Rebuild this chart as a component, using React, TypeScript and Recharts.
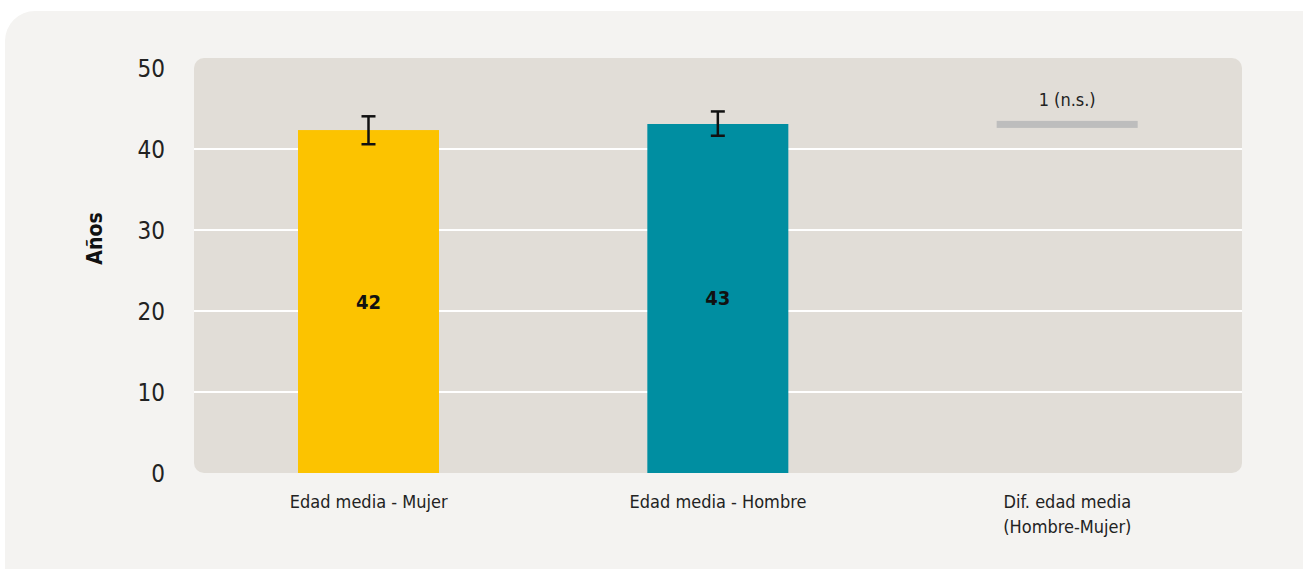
import React from "react";
import {
  BarChart,
  Bar,
  XAxis,
  YAxis,
  CartesianGrid,
  ErrorBar,
  LabelList,
  Label,
} from "recharts";

const categories = ["Edad media - Mujer", "Edad media - Hombre", "Dif. edad media\n(Hombre-Mujer)"];
const values = [42.35, 43.1, 43.05];
const errLow = [1.75, 1.45, null];
const errHigh = [1.7, 1.55, null];
const valueLabels = ["42", "43", "1 (n.s.)"];
const yTicks = [0, 10, 20, 30, 40, 50];
const gridValues = [10, 20, 30, 40];

const colors = ["#fcc300", "#008ea1", "#bdbdbd"];
const FONT = "'Liberation Sans Narrow', 'DejaVu Sans Condensed', Roboto, sans-serif";

const data = categories.map((c, i) => ({
  name: c,
  value: values[i],
  err: errLow[i] == null ? null : [errLow[i], errHigh[i]],
  label: valueLabels[i],
}));

const BarShape = (props: any) => {
  const { x, y, width, height, index } = props;
  if (index === 2) {
    // difference marker: a thin grey line at the level of the value
    return <rect x={x} y={y - 3.5} width={width} height={7} fill={colors[2]} />;
  }
  return <rect x={x} y={y} width={width} height={height} fill={colors[index]} />;
};

const CategoryTick = (props: any) => {
  const { x, y, payload } = props;
  const lines = String(payload.value).split("\n");
  return (
    <text x={x} y={y} textAnchor="middle" fill="#222" fontSize={18} fontFamily={FONT}>
      {lines.map((l, i) => (
        <tspan key={i} x={x} dy={i === 0 ? 27 : 25}>
          {l}
        </tspan>
      ))}
    </text>
  );
};

const ValueLabel = (props: any) => {
  const { x, y, width, height, index, value } = props;
  if (index === 2) {
    return (
      <text x={x + width / 2} y={y - 18} textAnchor="middle" fill="#222" fontSize={18} fontFamily={FONT}>
        {value}
      </text>
    );
  }
  return (
    <text
      x={x + width / 2}
      y={y + height / 2}
      dy={7}
      textAnchor="middle"
      fill="#111"
      fontSize={20}
      fontWeight="bold"
      fontFamily={FONT}
    >
      {value}
    </text>
  );
};

const AxisTitle = (props: any) => {
  const { viewBox } = props;
  const cx = 95;
  const cy = viewBox.y + viewBox.height / 2 - 27;
  return (
    <text
      x={cx}
      y={cy}
      transform={`rotate(-90 ${cx} ${cy})`}
      textAnchor="middle"
      dominantBaseline="central"
      fontSize={21}
      fontWeight="bold"
      fill="#111"
      fontFamily={FONT}
    >
      Años
    </text>
  );
};

export default function App() {
  return (
    <div style={{ position: "absolute", left: 0, top: 0, width: 1303, height: 569, background: "#fff", overflow: "hidden" }}>
      <div
        style={{
          position: "absolute",
          left: 5,
          top: 11,
          width: 1340,
          height: 600,
          borderRadius: 30,
          background: "#f4f3f1",
        }}
      />
      {/* rounded plot panel behind the svg */}
      <div
        style={{
          position: "absolute",
          left: 194,
          top: 58,
          width: 1048,
          height: 415,
          borderRadius: 10,
          background: "#e1ddd7",
        }}
      />
      <div style={{ position: "absolute", left: 0, top: 0 }}>
        <BarChart
          width={1303}
          height={569}
          data={data}
          margin={{ top: 58, right: 61, bottom: 0, left: 0 }}
          barSize={141}
        >
          <CartesianGrid
            vertical={false}
            stroke="#ffffff"
            strokeWidth={2}
            horizontalValues={gridValues}
          />
          <XAxis
            dataKey="name"
            axisLine={false}
            tickLine={false}
            interval={0}
            height={96}
            tick={<CategoryTick />}
          />
          <YAxis
            width={194}
            domain={[0, 51.25]}
            ticks={yTicks}
            axisLine={false}
            tickLine={false}
            tickSize={0}
            tickMargin={29}
            tick={{ fontSize: 24, fill: "#222", fontFamily: FONT }}
          >
            <Label content={<AxisTitle />} />
          </YAxis>
          <Bar dataKey="value" isAnimationActive={false} shape={<BarShape />}>
            <ErrorBar dataKey="err" width={7} strokeWidth={2.5} stroke="#111" />
            <LabelList dataKey="label" content={<ValueLabel />} />
          </Bar>
        </BarChart>
      </div>
    </div>
  );
}
